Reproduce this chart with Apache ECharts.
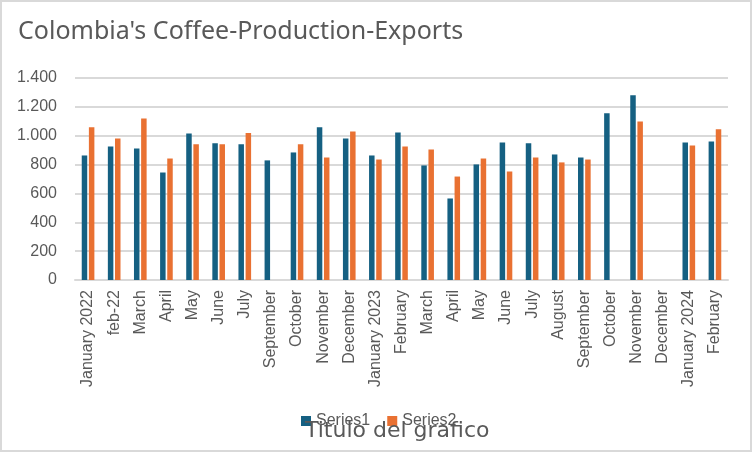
<!DOCTYPE html>
<html>
<head>
    <meta charset="utf-8">
    <script src="https://cdn.jsdelivr.net/npm/echarts@6/dist/echarts.min.js"></script>
    <style>
        html, body { margin: 0; padding: 0; background: #ffffff; }
        #chart {
            width: 752px;
            height: 452px;
            box-sizing: border-box;
            border: 2px solid #d9d9d9;
        }
    </style>
</head>
<body>
    <div id="chart"></div>
    <script>
        // categorias (eje x)
        var months = ['January 2022', 'feb-22', 'March', 'April', 'May', 'June', 'July',
            'September', 'October', 'November', 'December', 'January 2023', 'February',
            'March', 'April', 'May', 'June', 'July', 'August', 'September', 'October',
            'November', 'December', 'January 2024', 'February'];

        // Series1 - produccion
        var series1 = [863, 926, 912, 745, 1016, 947, 940, 829, 884, 1058, 981, 863, 1023,
            794, 565, 801, 953, 947, 870, 849, 1155, 1280, null, 953, 960];

        // Series2 - exportaciones
        var series2 = [1058, 981, 1120, 842, 940, 940, 1018, null, 940, 849, 1030, 835, 926,
            905, 717, 842, 752, 849, 815, 835, null, 1099, null, 933, 1044];

        var yTicks = [0, 200, 400, 600, 800, 1000, 1200, 1400];

        var textColor = '#595959';
        var gridColor = '#d9d9d9';
        var font = 'Liberation Sans';

        function fmt(v) {
            return String(v).replace(/\B(?=(\d{3})+(?!\d))/g, '.');
        }

        var chart = echarts.init(document.getElementById('chart'), null, { renderer: 'canvas' });

        var option = {
            animation: false,
            title: [
                {
                    text: "Colombia's Coffee-Production-Exports",
                    left: 11,
                    top: 12,
                    textStyle: { color: textColor, fontSize: 25, fontWeight: 'normal', fontFamily: 'Noto Sans' }
                },
                {
                    text: 'Titulo del grafico',
                    left: 298,
                    top: 413,
                    textStyle: { color: textColor, fontSize: 22, fontWeight: 'normal', fontFamily: 'DejaVu Sans' }
                }
            ],
            legend: {
                data: ['Series1', 'Series2'],
                left: 294,
                top: 406,
                itemWidth: 10,
                itemHeight: 10,
                itemGap: 17,
                icon: 'rect',
                textStyle: { color: textColor, fontSize: 16, fontFamily: font }
            },
            grid: {
                left: 73,
                right: 22,
                top: 76,
                bottom: 170
            },
            xAxis: {
                type: 'category',
                data: months,
                axisLine: { lineStyle: { color: gridColor, width: 2 } },
                axisTick: { show: false },
                axisLabel: {
                    rotate: 90,
                    interval: 0,
                    margin: 10,
                    color: textColor,
                    fontSize: 16,
                    fontFamily: font
                }
            },
            yAxis: {
                type: 'value',
                min: yTicks[0],
                max: yTicks[yTicks.length - 1],
                interval: 200,
                axisLine: { show: false },
                axisTick: { show: false },
                splitLine: { lineStyle: { color: gridColor, width: 2 } },
                axisLabel: {
                    margin: 18,
                    color: textColor,
                    fontSize: 16,
                    fontFamily: font,
                    formatter: fmt
                }
            },
            series: [
                {
                    name: 'Series1',
                    type: 'bar',
                    data: series1,
                    barWidth: 5.5,
                    barGap: '30%',
                    itemStyle: { color: '#156082' }
                },
                {
                    name: 'Series2',
                    type: 'bar',
                    data: series2,
                    barWidth: 5.5,
                    itemStyle: { color: '#e97132' }
                }
            ]
        };
        chart.setOption(option);
    </script>
</body>
</html>
